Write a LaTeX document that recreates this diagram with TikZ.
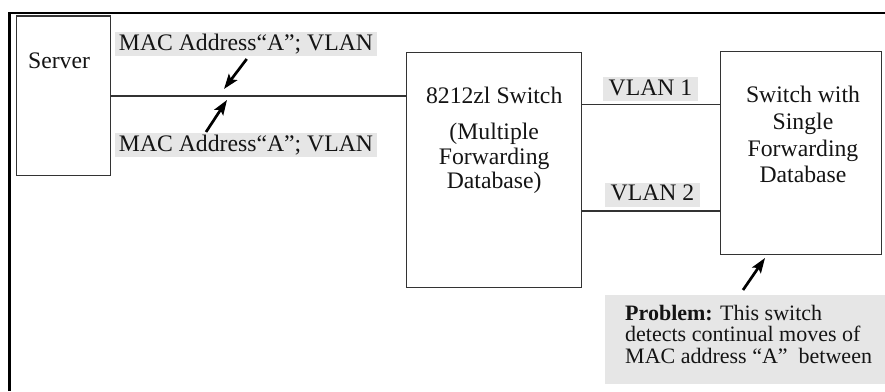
\documentclass[tikz,border=0pt]{standalone}
\usepackage{fontspec}
\setmainfont{Liberation Serif}
\usetikzlibrary{arrows.meta}
\definecolor{lblgray}{HTML}{E6E6E6}
\definecolor{ln}{HTML}{333333}
\definecolor{txt}{HTML}{141414}
\begin{document}
\begin{tikzpicture}[x=1pt,y=-1pt,
  box/.style={draw=ln,line width=1.3pt,inner sep=0pt},
  big/.style={font=\fontsize{23.7}{24.7}\selectfont,inner sep=0pt,anchor=base,text=txt},
  small/.style={font=\fontsize{22}{22}\selectfont,inner sep=0pt,anchor=base west,text=txt},
  lbl/.style={big,fill=lblgray,text height=18pt,text depth=6pt},
  wire/.style={draw=ln,line width=1.3pt},
  pointer/.style={line width=2.7pt,-{Stealth[length=15pt,width=10.5pt,inset=3pt]}},
  frameline/.style={line width=2.4pt}]
\useasboundingbox (0,0) rectangle (885,391);
% outer frame (top and left)
\draw[frameline] (9.5,391) -- (9.5,12.7) -- (885,12.7);
% boxes
\node[box,minimum width=94.3pt,minimum height=159.7pt] (server) at (63.3,95.9) {};
\node[box,minimum width=175pt,minimum height=234.6pt] (sw) at (494.2,170) {};
\node[box,minimum width=160.6pt,minimum height=203pt] (single) at (801,153.2) {};
% box texts
\node[big] (tserver) at (59,68) {Server};
\node[big] (tsw1) at (494.2,103.3) {8212zl Switch};
\node[big] (tsw2) at (494.2,139) {(Multiple};
\node[big] (tsw3) at (494.2,164) {Forwarding};
\node[big] (tsw4) at (494.2,188.5) {Database)};
\node[big] (ts1) at (803,102) {Switch with};
\node[big] (ts2) at (803,129) {Single};
\node[big] (ts3) at (803,156) {Forwarding};
\node[big] (ts4) at (803,182.3) {Database};
% wires
\coordinate (yA) at (0,96);
\coordinate (yV1) at (0,104.5);
\coordinate (yV2) at (0,211);
\draw[wire] (server.east |- yA) -- (sw.west |- yA);
\draw[wire] (sw.east |- yV1) -- (single.west |- yV1);
\draw[wire] (sw.east |- yV2) -- (single.west |- yV2);
% labels
\node[lbl,minimum width=262pt] (macA) at (246,50) {MAC Address“A”; VLAN};
\node[lbl,minimum width=262pt] (macB) at (246,151) {MAC Address“A”; VLAN};
\node[lbl,minimum width=95.6pt] (v1) at (650.5,95) {VLAN 1};
\node[lbl,minimum width=95pt] (v2) at (652.5,200.7) {VLAN 2};
% problem note
\node[fill=lblgray,minimum width=280pt,minimum height=89pt,inner sep=0pt] (prob) at (745,339.5) {};
\node[small] (p1) at (625,320) {\textbf{Problem:} This switch};
\node[small] (p2) at (625,341.7) {detects continual moves of};
\node[small] (p3) at (625,363.3) {MAC address “A”\ \ between};
% pointers
\coordinate (ta) at (246.7,59);
\coordinate (ha) at (224,89);
\coordinate (tb) at (206,132);
\coordinate (hb) at (227,100);
\coordinate (tp) at (743,290);
\coordinate (hp) at (765,258);
\draw[pointer] (ta) -- (ha);
\draw[pointer] (tb) -- (hb);
\draw[pointer] (tp) -- (hp);
\end{tikzpicture}
\end{document}
